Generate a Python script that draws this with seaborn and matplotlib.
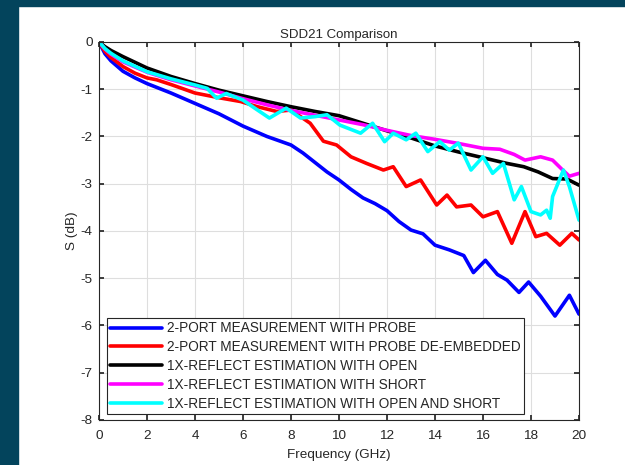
import numpy as np
import pandas as pd
import seaborn as sns
import matplotlib.pyplot as plt
from matplotlib.patches import Rectangle

# series (frequency in GHz, S in dB)
f_probe = [0, 0.25, 0.5, 1, 1.5, 2, 3, 4, 5, 6, 7, 8, 8.5, 9, 9.5, 10, 10.5, 11, 11.5, 12,
           12.5, 13, 13.5, 14, 14.6, 15.2, 15.6, 16.1, 16.6, 17.0, 17.5, 17.9, 18.4, 19.0, 19.6, 20]
s_probe = [0, -0.25, -0.40, -0.62, -0.76, -0.88, -1.08, -1.30, -1.52, -1.78, -2.00, -2.18, -2.35, -2.55,
           -2.75, -2.92, -3.12, -3.30, -3.42, -3.57, -3.80, -3.98, -4.06, -4.30, -4.40, -4.52, -4.88,
           -4.62, -4.92, -5.04, -5.30, -5.08, -5.38, -5.80, -5.36, -5.76]

f_deemb = [0, 0.25, 0.5, 1, 1.5, 2, 2.4, 3, 4, 5, 5.9, 6.6, 7.4, 8, 8.8, 9.35, 9.9, 10.5, 11.15, 11.85,
           12.26, 12.8, 13.4, 14.07, 14.5, 14.9, 15.5, 16.0, 16.6, 17.2, 17.75, 18.2, 18.65, 19.2, 19.7, 20]
s_deemb = [0, -0.20, -0.33, -0.52, -0.66, -0.76, -0.80, -0.90, -1.08, -1.18, -1.26, -1.37, -1.47, -1.44,
           -1.72, -2.10, -2.18, -2.43, -2.57, -2.71, -2.64, -3.06, -2.92, -3.45, -3.24, -3.49, -3.45,
           -3.70, -3.59, -4.26, -3.59, -4.12, -4.05, -4.30, -4.05, -4.19]

f_open = [0, 0.25, 0.5, 1, 2, 3, 4, 5, 6, 7, 8, 9, 10, 11, 12, 13, 14, 15, 16, 17, 17.7, 18.3, 18.9, 19.5, 20]
s_open = [0, -0.10, -0.18, -0.31, -0.55, -0.73, -0.88, -1.02, -1.14, -1.26, -1.37, -1.47, -1.56, -1.72,
          -1.88, -2.03, -2.20, -2.33, -2.45, -2.57, -2.64, -2.75, -2.89, -2.90, -3.03]

f_short = [0, 0.25, 0.5, 1, 2, 3, 4, 5, 6, 7, 8, 9, 10, 11, 12, 13, 14, 15, 16, 16.7, 17.3, 17.75,
           18.4, 18.9, 19.3, 19.6, 20]
s_short = [0, -0.15, -0.26, -0.42, -0.64, -0.80, -0.93, -1.06, -1.20, -1.33, -1.45, -1.55, -1.65, -1.75,
           -1.87, -1.98, -2.06, -2.15, -2.25, -2.27, -2.38, -2.50, -2.43, -2.50, -2.70, -2.84, -2.78]

f_both = [0, 0.25, 0.5, 1, 2, 3, 4, 4.5, 4.9, 5.3, 6.0, 6.4, 7.1, 7.8, 8.4, 9.0, 9.5, 10.04, 10.9, 11.4,
          11.9, 12.26, 12.8, 13.2, 13.7, 14.2, 14.6, 14.97, 15.5, 16.0, 16.4, 16.85, 17.3, 17.6, 18.0,
          18.4, 18.65, 18.8, 18.9, 19.35, 19.6, 20]
s_both = [0, -0.14, -0.24, -0.40, -0.63, -0.78, -0.91, -0.98, -1.19, -1.09, -1.23, -1.37, -1.61, -1.40,
          -1.61, -1.58, -1.54, -1.76, -1.93, -1.72, -2.11, -1.93, -2.07, -1.93, -2.32, -2.11, -2.29,
          -2.14, -2.71, -2.43, -2.78, -2.57, -3.34, -3.06, -3.59, -3.66, -3.56, -3.73, -3.27, -2.71,
          -3.06, -3.77]

labels = ['2-PORT MEASUREMENT WITH PROBE',
          '2-PORT MEASUREMENT WITH PROBE DE-EMBEDDED',
          '1X-REFLECT ESTIMATION WITH OPEN',
          '1X-REFLECT ESTIMATION WITH SHORT',
          '1X-REFLECT ESTIMATION WITH OPEN AND SHORT']
colors = ['#0000ff', '#ff0000', '#000000', '#ff00ff', '#00ffff']

series = [(f_probe, s_probe), (f_deemb, s_deemb), (f_open, s_open), (f_short, s_short), (f_both, s_both)]
df = pd.concat([pd.DataFrame({'Frequency': f, 'S': s, 'Curve': lab})
                for (f, s), lab in zip(series, labels)], ignore_index=True)

sns.set_theme(style='whitegrid')
plt.rcParams['font.family'] = ['Liberation Sans', 'DejaVu Sans']
plt.rcParams['axes.unicode_minus'] = False

fig = plt.figure(figsize=(6.25, 4.65), dpi=100, facecolor='white')
ax = fig.add_axes([0.1584, 0.0968, 0.768, 0.8129])

sns.lineplot(data=df, x='Frequency', y='S', hue='Curve', hue_order=labels,
             palette=dict(zip(labels, colors)), sort=False, estimator=None,
             linewidth=2.6, ax=ax)

ax.set_xlim(0, 20)
ax.set_ylim(-8, 0)
ax.set_xticks(np.arange(0, 21, 2))
ax.set_yticks(np.arange(-8, 1, 1))
ax.grid(True, color='#dedede', linewidth=0.8)
ax.tick_params(direction='in', length=3.5, colors='#262626', labelsize=9.7, pad=4.5,
               top=True, right=True, bottom=True, left=True)
ax.tick_params(axis='x', pad=7)
for sp in ax.spines.values():
    sp.set_color('#262626')
    sp.set_linewidth(0.8)

ax.set_title('SDD21 Comparison', fontsize=9.5, color='#262626', pad=3)
ax.set_xlabel('Frequency (GHz)', fontsize=9.7, color='#262626', labelpad=5)
ax.set_ylabel('S (dB)', fontsize=9.7, color='#262626', labelpad=2)

leg = ax.legend(loc='lower left', bbox_to_anchor=(0.0167, 0.016), borderaxespad=0,
                fontsize=9.8, handlelength=3.8, handletextpad=0.38, labelspacing=0.35,
                frameon=True, fancybox=False, framealpha=1, borderpad=0.25)
leg.get_frame().set_edgecolor('#262626')
leg.get_frame().set_linewidth(0.8)
for t in leg.get_texts():
    t.set_color('#262626')

# dark frame strips at top and left of the screenshot
fig.patches.append(Rectangle((0, 0.987), 1, 0.013, transform=fig.transFigure,
                             color='#03445c', zorder=0))
fig.patches.append(Rectangle((0, 0), 0.0285, 1, transform=fig.transFigure,
                             color='#03445c', zorder=0))

fig.savefig('out.png', dpi=100, facecolor='white')
